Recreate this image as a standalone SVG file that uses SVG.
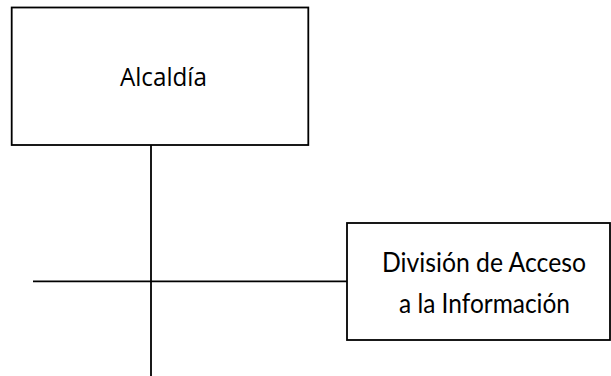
<svg xmlns="http://www.w3.org/2000/svg" width="611" height="376" viewBox="0 0 611 376">
<style>
.box{fill:#fff;stroke:#000;stroke-width:1.8}
.ln{stroke:#000;stroke-width:1.8;fill:none}
.t1{font-family:"Open Sans","Noto Sans",sans-serif;font-size:25px;fill:#000;text-anchor:middle}
.t2{font-family:Lato,"Noto Sans",sans-serif;font-size:26px;fill:#000;text-anchor:middle}
</style>
<rect width="611" height="376" fill="#fff"/>
<g id="connectors">
<line class="ln" x1="151" y1="145" x2="151" y2="376"/>
<line class="ln" x1="33" y1="281.3" x2="347" y2="281.3"/>
</g>
<g id="alcaldia">
<rect class="box" x="11.7" y="7.5" width="296.6" height="137.5"/>
<text class="t1" x="163.4" y="86" textLength="87" lengthAdjust="spacingAndGlyphs">Alcaldía</text>
</g>
<g id="division">
<rect class="box" x="347" y="223" width="263" height="117"/>
<text class="t2" x="484" y="272.3" textLength="204" lengthAdjust="spacingAndGlyphs">División de Acceso</text>
<text class="t2" x="484.5" y="312.7" textLength="171" lengthAdjust="spacingAndGlyphs">a la Información</text>
</g>
</svg>
